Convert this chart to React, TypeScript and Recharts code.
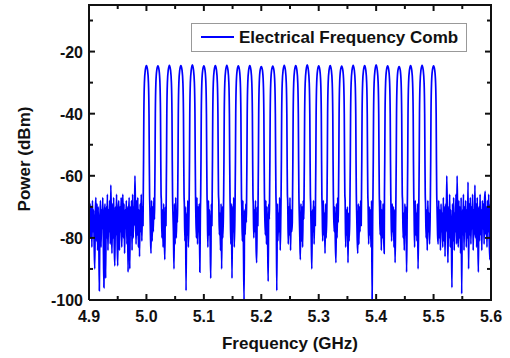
import { LineChart, Line, XAxis, YAxis, Legend } from 'recharts';

// noise floor below the comb, 4.900 .. 4.994 GHz in 1 MHz steps
const leftNoiseStart = 4.9;
const leftNoise = [
  -62, -74, -69, -80, -70, -83, -68, -78, -71, -82,
  -90, -72, -67, -81, -69, -84, -70, -79, -97, -74,
  -68, -83, -71, -77, -67, -82, -96, -72, -69, -93,
  -70, -80, -66, -84, -71, -78, -68, -82, -63, -75,
  -85, -69, -80, -67, -83, -89, -70, -79, -66, -81,
  -89, -71, -68, -84, -70, -78, -67, -83, -72, -66,
  -80, -69, -85, -71, -77, -68, -82, -70, -91, -73,
  -67, -90, -70, -79, -68, -84, -66, -80, -70, -76,
  -60, -72, -82, -68, -79, -67, -83, -71, -86, -69,
  -78, -66, -81, -70, -76,
];

// comb lines (GHz) and their peak power (dBm)
const combFreqs = [
  5.0, 5.02, 5.04, 5.06, 5.08, 5.1, 5.12, 5.14, 5.16, 5.18, 5.2, 5.22, 5.24,
  5.26, 5.28, 5.3, 5.32, 5.34, 5.36, 5.38, 5.4, 5.42, 5.44, 5.46, 5.48, 5.5,
];
const combPeaks = [
  -24.5, -24.6, -24.4, -24.5, -24.3, -24.6, -24.5, -24.4, -24.6, -24.5, -24.8,
  -24.7, -24.4, -24.5, -24.3, -24.6, -24.5, -24.7, -24.4, -24.5, -24.3, -24.6,
  -24.8, -24.5, -24.4, -24.6,
];

// lobe flank: distance from line centre (GHz) -> dBm
const lobeOffsets = [0.002, 0.0035, 0.0045, 0.005, 0.0055];
const lobeLevels = [-26, -30, -40, -55, -66];

// noise between neighbouring lines, +6 .. +14 MHz after each line
const gapNoise = [
  [-70, -79, -85, -68, -81, -70, -78, -67, -74],
  [-68, -80, -71, -83, -69, -78, -87, -70, -76],
  [-71, -78, -90, -69, -82, -67, -80, -72, -75],
  [-69, -81, -70, -97, -72, -79, -68, -83, -73],
  [-72, -80, -67, -82, -70, -78, -69, -91, -71],
  [-70, -83, -68, -79, -71, -81, -93, -69, -76],
  [-68, -79, -72, -84, -69, -90, -70, -80, -73],
  [-71, -82, -69, -93, -70, -78, -67, -83, -74],
  [-70, -81, -68, -84, -100, -71, -79, -69, -75],
  [-69, -80, -71, -78, -68, -83, -88, -70, -76],
  [-72, -79, -68, -82, -70, -80, -94, -69, -74],
  [-70, -97, -69, -81, -72, -78, -67, -84, -73],
  [-68, -82, -70, -79, -67, -84, -71, -78, -75],
  [-71, -79, -87, -69, -81, -70, -83, -68, -74],
  [-69, -80, -90, -71, -78, -68, -82, -70, -76],
  [-70, -81, -68, -79, -72, -85, -69, -80, -73],
  [-72, -78, -70, -82, -88, -69, -80, -67, -75],
  [-68, -83, -71, -79, -70, -88, -72, -81, -74],
  [-71, -80, -85, -69, -82, -70, -78, -68, -76],
  [-69, -82, -70, -79, -71, -83, -68, -100, -72],
  [-70, -79, -68, -84, -71, -80, -69, -78, -85],
  [-72, -81, -69, -78, -70, -83, -71, -88, -74],
  [-68, -80, -72, -84, -69, -79, -70, -91, -73],
  [-71, -83, -68, -79, -72, -81, -69, -90, -75],
  [-69, -80, -71, -84, -68, -78, -72, -82, -74],
];

// noise floor above the comb, 5.506 .. 5.600 GHz
const rightNoiseStart = 5.506;
const rightNoise = [
  -70, -79, -82, -68, -80, -71, -84, -69, -78, -72,
  -83, -67, -81, -70, -86, -69, -78, -60, -74, -88,
  -70, -80, -66, -83, -71, -79, -96, -69, -81, -67,
  -84, -72, -78, -66, -82, -60, -75, -83, -68, -80,
  -70, -85, -67, -98, -71, -79, -66, -84, -70, -78,
  -68, -83, -71, -80, -62, -90, -69, -79, -67, -82,
  -70, -77, -66, -84, -71, -79, -63, -80, -69, -83,
  -67, -78, -91, -70, -81, -66, -79, -71, -84, -68,
  -77, -69, -82, -67, -65, -79, -70, -83, -68, -78,
  -66, -81, -87, -69, -76,
];

const xTicks = [4.9, 4.95, 5.0, 5.05, 5.1, 5.15, 5.2, 5.25, 5.3, 5.35, 5.4, 5.45, 5.5, 5.55, 5.6];
const yTicks = [-100, -90, -80, -70, -60, -50, -40, -30, -20, -10];

const data: { f: number; p: number }[] = [];
leftNoise.forEach((p, i) => data.push({ f: leftNoiseStart + i * 0.001, p }));
combFreqs.forEach((c, k) => {
  for (let j = lobeOffsets.length - 1; j >= 0; j--) {
    data.push({ f: c - lobeOffsets[j], p: lobeLevels[j] });
  }
  data.push({ f: c, p: combPeaks[k] });
  lobeOffsets.forEach((o, j) => data.push({ f: c + o, p: lobeLevels[j] }));
  if (k < gapNoise.length) {
    gapNoise[k].forEach((p, j) => data.push({ f: c + 0.006 + j * 0.001, p }));
  }
});
rightNoise.forEach((p, i) => data.push({ f: rightNoiseStart + i * 0.001, p }));

const font = "Arial, 'Liberation Sans', Helvetica, sans-serif";
const ink = '#111';
const blue = '#0000ff';

// plot box edges; the top and right sides carry mirrored ticks
const plotTop = 5;
const plotRight = 491;
const plotLeft = 89;
const plotBottom = 300;

const isMajorX = (v: number) => Math.abs(v * 10 - Math.round(v * 10)) < 1e-6;
const isMajorY = (v: number) => v % 20 === 0;

function bottomTick({ x, y, payload }: any) {
  const major = isMajorX(payload.value);
  const len = major ? 6 : 4;
  return (
    <g>
      <line x1={x} x2={x} y1={y} y2={y - len} stroke={ink} strokeWidth={2} />
      <line x1={x} x2={x} y1={plotTop} y2={plotTop + len} stroke={ink} strokeWidth={2} />
      {major && (
        <text x={x} y={y + 22} textAnchor="middle" fontFamily={font} fontWeight="bold" fontSize={16} fill={ink}>
          {payload.value.toFixed(1)}
        </text>
      )}
    </g>
  );
}

function leftTick({ x, y, payload }: any) {
  const major = isMajorY(payload.value);
  const len = major ? 6 : 4;
  return (
    <g>
      <line x1={x} x2={x + len} y1={y} y2={y} stroke={ink} strokeWidth={2} />
      <line x1={plotRight} x2={plotRight - len} y1={y} y2={y} stroke={ink} strokeWidth={2} />
      {major && (
        <text x={x - 6} y={y + 6} textAnchor="end" fontFamily={font} fontWeight="bold" fontSize={16} fill={ink}>
          {payload.value}
        </text>
      )}
    </g>
  );
}

const xTitle = () => (
  <g>
    <text x={290} y={349} textAnchor="middle" fontFamily={font} fontWeight="bold" fontSize={17} fill={ink}>
      Frequency (GHz)
    </text>
    {/* top and right sides of the closed frame */}
    <line x1={plotLeft} x2={plotRight} y1={plotTop} y2={plotTop} stroke={ink} strokeWidth={2} strokeLinecap="square" />
    <line x1={plotRight} x2={plotRight} y1={plotTop} y2={plotBottom} stroke={ink} strokeWidth={2} strokeLinecap="square" />
  </g>
);

const yTitle = () => (
  <text
    x={30}
    y={159}
    transform="rotate(-90 30 159)"
    textAnchor="middle"
    fontFamily={font}
    fontWeight="bold"
    fontSize={17}
    fill={ink}
  >
    Power (dBm)
  </text>
);

const legendBox = () => (
  <svg width={276} height={29} style={{ display: 'block' }}>
    <rect x={0.5} y={0.5} width={275} height={28} fill="#fff" stroke="#999" strokeWidth={1} />
    <line x1={10} x2={43} y1={14} y2={14} stroke={blue} strokeWidth={2} />
    <text x={48} y={20} fontFamily={font} fontWeight="bold" fontSize={17} fill={ink}>
      Electrical Frequency Comb
    </text>
  </svg>
);

export default function App() {
  return (
    <div style={{ position: 'absolute', left: 0, top: 0, width: 510, height: 358 }}>
      <LineChart width={510} height={358} data={data} margin={{ top: 5, right: 19, bottom: 0, left: 0 }}>
        <XAxis
          dataKey="f"
          type="number"
          domain={[4.9, 5.6]}
          ticks={xTicks}
          interval={0}
          height={58}
          tickSize={0}
          tickMargin={0}
          axisLine={{ stroke: ink, strokeWidth: 2 }}
          tick={bottomTick}
          label={xTitle}
        />
        <YAxis
          type="number"
          domain={[-100, -5]}
          ticks={yTicks}
          interval={0}
          width={89}
          tickSize={0}
          tickMargin={0}
          axisLine={{ stroke: ink, strokeWidth: 2 }}
          tick={leftTick}
          label={yTitle}
        />
        <Legend
          layout="horizontal"
          align="center"
          verticalAlign="middle"
          wrapperStyle={{ left: 191, top: 23, width: 276, height: 29 }}
          content={legendBox}
        />
        <Line
          type="monotone"
          dataKey="p"
          stroke={blue}
          strokeWidth={1.7}
          dot={false}
          isAnimationActive={false}
        />
      </LineChart>
    </div>
  );
}
